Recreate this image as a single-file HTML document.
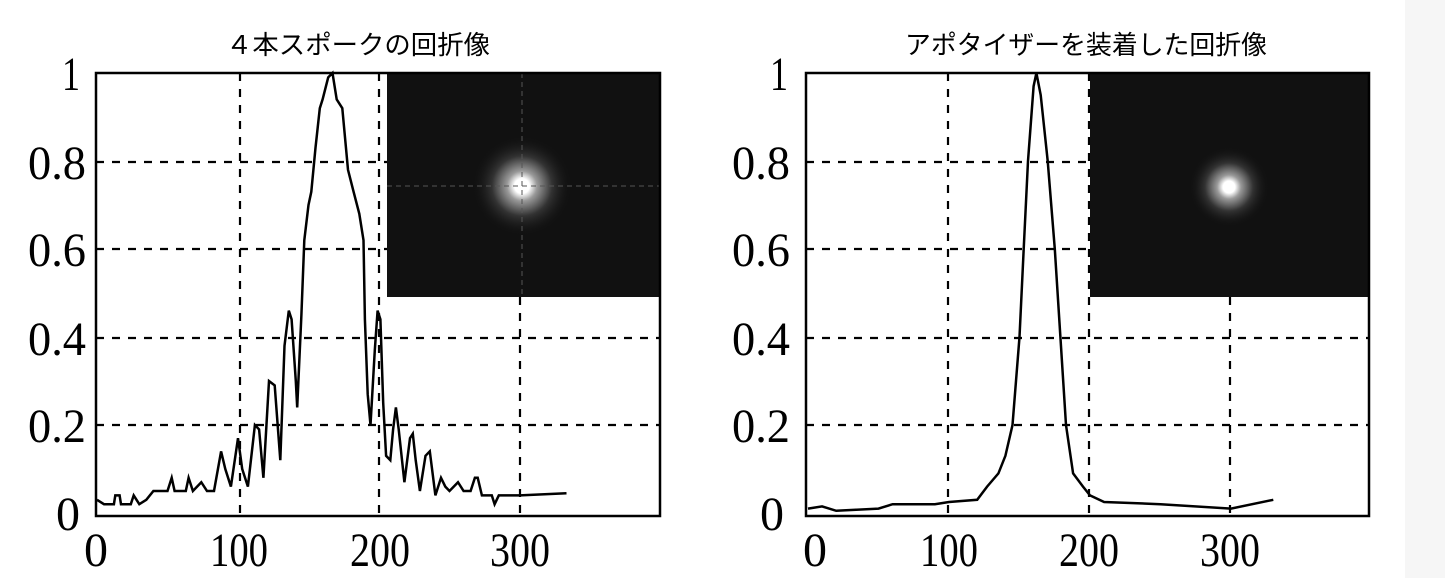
<!DOCTYPE html>
<html><head><meta charset="utf-8"><style>
body{margin:0;background:#fff;}
</style></head><body>
<svg width="1445" height="578" viewBox="0 0 1445 578" xmlns="http://www.w3.org/2000/svg">
<defs>
<radialGradient id="g1"><stop offset="0" stop-color="#fff"/><stop offset="0.15" stop-color="#fff"/><stop offset="0.3" stop-color="#999"/><stop offset="0.6" stop-color="#333"/><stop offset="1" stop-color="#111" stop-opacity="0"/></radialGradient>
</defs>
<rect x="1405" y="0" width="40" height="578" fill="#f6f6f6"/>
<g font-family="Liberation Sans, Noto Sans CJK JP, sans-serif" font-size="26" fill="#000">
<text x="358" y="54" text-anchor="middle" textLength="264" lengthAdjust="spacingAndGlyphs">４本スポークの回折像</text>
<text x="1086" y="54" text-anchor="middle" textLength="362" lengthAdjust="spacingAndGlyphs">アポタイザーを装着した回折像</text>
</g>
<g font-family="Liberation Serif, serif" font-size="48" fill="#000">
<text x="62" y="90" textLength="18" lengthAdjust="spacingAndGlyphs">1</text>
<text x="28" y="179" textLength="58" lengthAdjust="spacingAndGlyphs">0.8</text>
<text x="28" y="266" textLength="58" lengthAdjust="spacingAndGlyphs">0.6</text>
<text x="28" y="355" textLength="58" lengthAdjust="spacingAndGlyphs">0.4</text>
<text x="28" y="442" textLength="58" lengthAdjust="spacingAndGlyphs">0.2</text>
<text x="56" y="530" textLength="24" lengthAdjust="spacingAndGlyphs">0</text>
<text x="84" y="566" textLength="24" lengthAdjust="spacingAndGlyphs">0</text>
<text x="210" y="566" textLength="58" lengthAdjust="spacingAndGlyphs">100</text>
<text x="350" y="566" textLength="60" lengthAdjust="spacingAndGlyphs">200</text>
<text x="490" y="566" textLength="60" lengthAdjust="spacingAndGlyphs">300</text>
<text x="770" y="90" textLength="18" lengthAdjust="spacingAndGlyphs">1</text>
<text x="732" y="179" textLength="58" lengthAdjust="spacingAndGlyphs">0.8</text>
<text x="732" y="266" textLength="58" lengthAdjust="spacingAndGlyphs">0.6</text>
<text x="732" y="355" textLength="58" lengthAdjust="spacingAndGlyphs">0.4</text>
<text x="732" y="442" textLength="58" lengthAdjust="spacingAndGlyphs">0.2</text>
<text x="760" y="530" textLength="24" lengthAdjust="spacingAndGlyphs">0</text>
<text x="803" y="566" textLength="24" lengthAdjust="spacingAndGlyphs">0</text>
<text x="920" y="566" textLength="58" lengthAdjust="spacingAndGlyphs">100</text>
<text x="1059" y="566" textLength="60" lengthAdjust="spacingAndGlyphs">200</text>
<text x="1200" y="566" textLength="60" lengthAdjust="spacingAndGlyphs">300</text>
</g>
<g stroke="#000" stroke-width="2.2" stroke-dasharray="8,8" fill="none">
<path d="M96 162H660M96 249H660M96 338H660M96 425H660M240 73V516M379 73V516M520 73V516"/>
<path d="M806 162H1369M806 249H1369M806 338H1369M806 425H1369M948 73V516M1089 73V516M1230 73V516"/>
</g>
<rect x="387" y="73" width="273" height="224" fill="#111"/>
<circle cx="522" cy="186" r="50" fill="url(#g1)"/>
<path d="M387 186H660M522 73V297" stroke="#555" stroke-width="1" stroke-dasharray="5,4"/>
<rect x="1090" y="73" width="279" height="224" fill="#111"/>
<circle cx="1229" cy="187" r="40" fill="url(#g1)"/>
<rect x="96" y="73" width="564" height="443" fill="none" stroke="#000" stroke-width="2.5"/>
<rect x="806" y="73" width="563" height="443" fill="none" stroke="#000" stroke-width="2.5"/>
<polyline id="p1" fill="none" stroke="#000" stroke-width="2.5" points=""/>
<polyline id="p2" fill="none" stroke="#000" stroke-width="2.5" points=""/>
</svg>
<script>
var L=[[0,.03],[5,.02],[12,.02],[13,.04],[16,.04],[17,.02],[24,.02],[26,.04],[30,.02],[35,.03],[40,.05],[50,.05],[53,.08],[55,.05],[63,.05],[65,.08],[68,.05],[74,.07],[78,.05],[83,.05],[88,.14],[91,.1],[95,.06],[100,.17],[103,.1],[107,.06],[112,.2],[115,.19],[118,.08],[122,.3],[126,.29],[130,.12],[133,.38],[136,.46],[138,.44],[141,.3],[142,.24],[145,.45],[147,.62],[150,.7],[152,.73],[155,.83],[158,.92],[160,.94],[164,.99],[167,1],[170,.94],[174,.92],[178,.78],[182,.73],[186,.68],[189,.62],[190,.44],[192,.27],[194,.2],[197,.37],[199,.46],[201,.44],[203,.25],[205,.13],[208,.12],[210,.19],[212,.24],[214,.19],[218,.07],[222,.17],[224,.18],[226,.12],[229,.05],[233,.13],[236,.14],[240,.04],[244,.08],[247,.06],[250,.05],[256,.07],[260,.05],[265,.05],[268,.08],[270,.08],[273,.04],[280,.04],[282,.02],[285,.04],[300,.04],[333,.045]];
var R=[[0,.01],[10,.015],[20,.005],[50,.01],[60,.02],[90,.02],[100,.025],[120,.03],[127,.06],[135,.09],[140,.13],[145,.2],[150,.4],[153,.6],[156,.8],[160,.97],[162,1],[165,.95],[170,.8],[175,.6],[179,.4],[183,.2],[188,.09],[195,.06],[200,.04],[210,.025],[250,.02],[300,.01],[330,.03]];
function pts(d,x0,s){return d.map(function(p){return (x0+p[0]*s).toFixed(1)+","+(513-p[1]*440).toFixed(1)}).join(" ");}
document.getElementById("p1").setAttribute("points",pts(L,97,1.41));
document.getElementById("p2").setAttribute("points",pts(R,808,1.41));
</script>
</body></html>
